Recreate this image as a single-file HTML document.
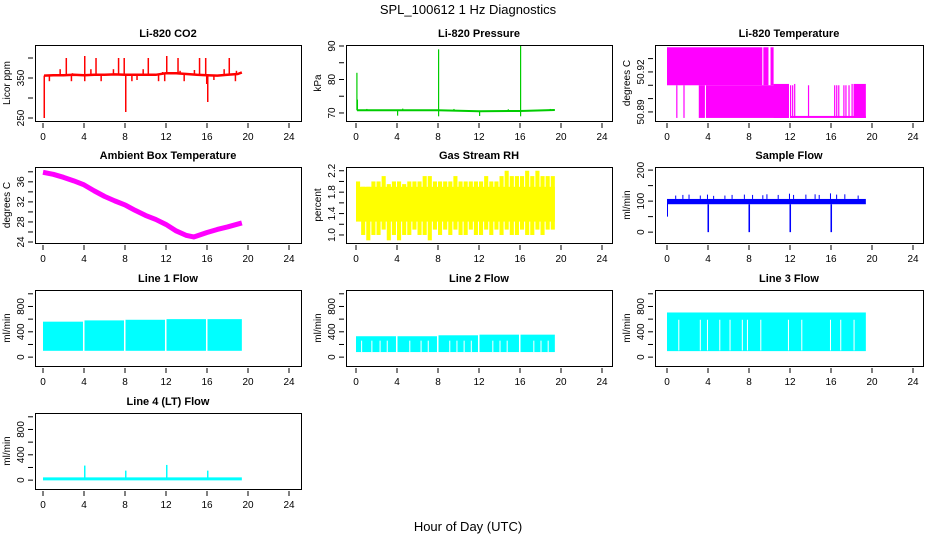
<!DOCTYPE html>
<html><head><meta charset="utf-8"><style>
html,body{margin:0;padding:0;background:#fff;}
svg{display:block;font-family:"Liberation Sans",sans-serif;}
</style></head><body>
<svg id="chart" width="936" height="540" viewBox="0 0 936 540" xmlns="http://www.w3.org/2000/svg">
<rect x="0" y="0" width="936" height="540" fill="#fff"/>
<text x="468" y="14" text-anchor="middle" font-size="13">SPL_100612  1 Hz Diagnostics</text>
<text x="468" y="531" text-anchor="middle" font-size="13">Hour of Day (UTC)</text>
</svg>
<script>
// ---- data ----
const xTicks = [0,4,8,12,16,20,24];
const co2Hours = [0.1,1,2,3,4,5,6,7,8,9,10,11,12,13,14,15,16,17,18,19,19.4];
const co2Base = [356,357,357,358,357,358,358,359,358,358,358,358,362,362,360,358,357,356,358,360,364];
const co2SpikeHours = [0.05,2.2,4.0,5.1,7.3,7.85,8.0,10.2,12.0,13.1,15.2,15.8,16.0,18.1,1.6,2.8,4.6,6.8,9.7,11.6,13.3,14.7,17.6,18.8,0.55,2.7,5.6,8.6,9.1,11.2,11.8,13.7,15.9,16.6,18.7,4.0];
const co2SpikeVals = [250,400,405,400,400,400,265,400,405,400,400,400,290,400,372,362,372,372,372,365,368,370,372,368,342,342,342,342,345,342,342,342,335,345,342,342];
const pressHours = [0.1,4,8,12,16,19.4];
const pressBase = [70.8,70.8,70.8,70.5,70.6,70.9];
const pressSpikeHours = [0.03,0.08,8.0,16.0,4.0,8.0,12.0,16.0,1.0,4.5,9.5,14.8,18.9];
const pressSpikeVals = [82,74,89,90,69.2,69,69.1,69,71.2,71.3,71.2,71.1,71.2];
const tempSegStart = [0,9.4,10.1,0.9,1.6,3.1,3.8,12.0,18.2,12.0,12.2,12.4,13.75,16.3,16.5,16.7,17.2,17.4,17.7,18.0,10.4];
const tempSegEnd   = [9.3,9.9,10.4,1.0,1.65,3.7,11.9,19.4,19.4,12.1,12.3,12.5,13.85,16.35,16.6,16.8,17.3,17.5,17.8,18.1,11.9];
const tempSegLow   = [50.910,50.910,50.910,50.8855,50.8855,50.8855,50.8855,50.8855,50.8855,50.8855,50.8855,50.8855,50.8855,50.8855,50.8855,50.8855,50.8855,50.8855,50.8855,50.8855,50.8855];
const tempSegHigh  = [50.9385,50.9385,50.9385,50.910,50.910,50.910,50.910,50.887,50.911,50.910,50.910,50.911,50.910,50.910,50.910,50.910,50.910,50.910,50.910,50.911,50.911];
const ambHours = [0,1,2,3,4,5,6,7,8,9,10,11,12,13,14,14.7,15,16,17,18,19.4];
const ambVals = [37.9,37.5,36.9,36.2,35.4,34.2,33.1,32.2,31.4,30.3,29.3,28.5,27.5,26.2,25.3,25.0,25.2,25.9,26.5,27.0,27.8];
const rhLow = [1.5,1.0,0.9,1.0,1.0,1.1,0.9,1.0,0.9,1.0,1.0,1.1,1.0,1.0,0.9,1.1,1.0,1.1,1.0,1.1,1.0,1.0,1.1,1.0,1.0,1.1,1.0,1.1,1.0,1.1,1.0,1.0,1.1,1.0,1.0,1.1,1.0,1.1,1.1];
const rhHigh = [2.0,1.9,1.9,2.0,2.0,2.1,1.95,2.0,2.0,1.95,2.0,2.0,2.0,2.1,2.1,2.0,2.0,2.0,2.0,2.1,2.0,2.0,2.0,2.0,2.0,2.1,2.0,2.0,2.1,2.2,2.1,2.1,2.1,2.2,2.1,2.2,2.1,2.1,2.1];
const sfBandLow = 90, sfBandHigh = 107;
const sfSpikeHours = [0.8,1.5,2.1,3.2,3.9,4.5,5.6,6.3,7.5,8.3,9.3,9.7,10.8,11.9,12.3,13.5,14.4,14.8,15.9,16.5,17.3,18.6];
const sfSpikeVals = [118,120,121,118,121,117,118,120,121,120,119,122,120,124,120,121,122,120,125,121,122,118];
const sfDipHours = [4.0,8.0,12.0,16.0];
const sfDipVals = [0,0,0,0];
const l1SegStart = [0,4.05,8.05,12.05,16.05];
const l1SegEnd = [3.9,7.9,11.9,15.9,19.4];
const l1SegTop = [560,580,590,600,600];
const l1Bottom = 100;
const l2SegStart = [0,4.05,8.05,12.05,16.05];
const l2SegEnd = [3.9,7.9,11.9,15.9,19.4];
const l2SegTop = [330,330,345,355,355];
const l2Bottom = 80;
const l2Gaps = [0.5,1.5,2.3,3.0,5.2,6.3,7.0,9.1,9.8,10.5,11.2,13.3,14.0,14.7,17.3,18.0,18.7];
const l3SegStart = [0];
const l3SegEnd = [19.4];
const l3SegTop = [705];
const l3Bottom = 95;
const l3Gaps = [1.1,3.2,3.9,5.1,6.1,7.3,7.8,9.1,11.8,13.1,15.9,16.9,18.2];
const l4Hours = [0,19.4];
const l4Vals = [20,20];
const l4SpikeHours = [4.0,8.0,12.0,16.0];
const l4SpikeVals = [230,150,240,150];

// ---- layout ----
const svg = document.getElementById('chart');
const NS = 'http://www.w3.org/2000/svg';
const colLeft = [35,346,655], colRight = [301,612,923], colX0 = [43,356,667];
const rowTop = [45,167,290,413], boxH = 76;
const XS = 10.25;

function el(tag, attrs, parent){
  const e = document.createElementNS(NS, tag);
  for (const k in attrs) e.setAttribute(k, attrs[k]);
  (parent||svg).appendChild(e);
  return e;
}
function panel(name, title, ylab, col, row, y0, y1, yticks, ylabels){
  const g = el('g', {});
  
  
  const p = {g, L:colLeft[col], R:colRight[col], T:rowTop[row], B:rowTop[row]+boxH, x0:colX0[col], y0, y1};
  p.x = h => p.x0 + h*XS;
  p.y = v => p.B - (v - y0) / (y1 - y0) * boxH;
  const t = el('text', {x:(p.L+p.R)/2, y:p.T-8, 'text-anchor':'middle', 'font-size':11, 'font-weight':'bold'}, g);
  t.textContent = title;
  
  
  const yl = el('text', {x:0, y:0, 'text-anchor':'middle', 'font-size':10, transform:`translate(${p.L-25},${p.T+boxH/2}) rotate(-90)`}, g);
  yl.textContent = ylab;
  
  
  xTicks.forEach(h => {
    const tk = el('line', {x1:p.x(h), x2:p.x(h), y1:p.B+2, y2:p.B+7, stroke:'#000'}, g);
    
    
    const lb = el('text', {x:p.x(h), y:p.B+19, 'text-anchor':'middle', 'font-size':10}, g);
    lb.textContent = h;
    
    
  });
  yticks.forEach(v => {
    const yy = p.y(v);
    const tk = el('line', {x1:p.L-7, x2:p.L-2, y1:yy, y2:yy, stroke:'#000'}, g);
    
    
  });
  ylabels.forEach(s => {
    const lb = el('text', {x:0, y:0, 'text-anchor':'middle', 'font-size':10, transform:`translate(${p.L-11},${p.y(parseFloat(s))}) rotate(-90)`}, g);
    lb.textContent = s;
    
    
  });
  p.data = el('g', {}, g);
  
  
  const box = el('rect', {x:p.L+0.5, y:p.T+0.5, width:p.R-p.L, height:boxH, fill:'none', stroke:'#000'}, g);
  
  
  return p;
}
function vbar(p, h0, h1, lo, hi, color, name, minW){
  const x0 = p.x(h0), x1 = p.x(h1);
  const ya = p.y(hi), yb = p.y(lo);
  const r = el('rect', {x:x0, y:ya, width:Math.max(minW||1, x1-x0), height:Math.max(1.5, yb-ya), fill:color}, p.data);
  
  
  return r;
}
function poly(p, hs, vs, color, w, name){
  const pts = hs.map((h,i)=>p.x(h)+','+p.y(vs[i])).join(' ');
  const l = el('polyline', {points:pts, fill:'none', stroke:color, 'stroke-width':w, 'stroke-linejoin':'round'}, p.data);
  
  
}
function interp(hs, vs, h){
  if (h <= hs[0]) return vs[0];
  for (let i=1;i<hs.length;i++) if (h <= hs[i]) return vs[i-1] + (vs[i]-vs[i-1])*(h-hs[i-1])/(hs[i]-hs[i-1]);
  return vs[vs.length-1];
}

// CO2
const pCO2 = panel('co2-panel','Li-820 CO2','Licor ppm',0,0,242.5,432.5,[250,300,350,400],['250','350']);
poly(pCO2, co2Hours, co2Base, '#ff0000', 2.5, 'co2-line');
co2SpikeHours.forEach((h,i)=>{ const b = interp(co2Hours,co2Base,h); vbar(pCO2,h,h+0.1,Math.min(b,co2SpikeVals[i]),Math.max(b,co2SpikeVals[i]),'#ff0000','co2-spike',1.5); });

// Pressure
const pP = panel('pressure-panel','Li-820 Pressure','kPa',1,0,67.6,90.3,[70,75,80,85,90],['70','80','90']);
poly(pP, pressHours, pressBase, '#00cc00', 2, 'pressure-line');
pressSpikeHours.forEach((h,i)=>{ const b = interp(pressHours,pressBase,h); vbar(pP,h,h+0.08,Math.min(b,pressSpikeVals[i]),Math.max(b,pressSpikeVals[i]),'#00cc00','pressure-spike',1.2); });

// Li-820 temperature
const pT = panel('li820-temperature-panel','Li-820 Temperature','degrees C',2,0,50.8832,50.9402,[50.89,50.90,50.91,50.92,50.93],['50.89','50.92']);
tempSegStart.forEach((s,i)=>vbar(pT,s,tempSegEnd[i],tempSegLow[i],tempSegHigh[i],'#ff00ff','temperature-segment',1.2));

// Ambient
const pA = panel('ambient-temperature-panel','Ambient Box Temperature','degrees C',0,1,23.8,38.96,[24,26,28,30,32,34,36,38],['24','28','32','36']);
poly(pA, ambHours, ambVals, '#ff00ff', 5, 'ambient-temperature-line');

// RH
const pRH = panel('gas-stream-rh-panel','Gas Stream RH','percent',1,1,0.85,2.27,[1.0,1.2,1.4,1.6,1.8,2.0,2.2],['1.0','1.4','1.8','2.2']);
vbar(pRH,0,19.4,1.25,1.9,'#ffff00','rh-core');
rhLow.forEach((lo,i)=>vbar(pRH,i*0.5,i*0.5+0.4,lo,rhHigh[i],'#ffff00','rh-bin'));

// Sample flow
const pS = panel('sample-flow-panel','Sample Flow','ml/min',2,1,-35,210,[0,50,100,150,200],['0','100','200']);
vbar(pS,0,19.4,sfBandLow,sfBandHigh,'#0000ff','sample-flow-band');
vbar(pS,0,0.08,50,100,'#0000ff','sample-flow-start');
sfSpikeHours.forEach((h,i)=>vbar(pS,h,h+0.08,sfBandHigh,sfSpikeVals[i],'#0000ff','sample-flow-spike'));
sfDipHours.forEach((h,i)=>vbar(pS,h-0.05,h+0.1,sfDipVals[i],sfBandLow,'#0000ff','sample-flow-dip',1.5));

// Line flows
const pL1 = panel('line1-flow-panel','Line 1 Flow','ml/min',0,2,-140,1060,[0,200,400,600,800,1000],['0','400','800']);
l1SegStart.forEach((s,i)=>vbar(pL1,s,l1SegEnd[i],l1Bottom,l1SegTop[i],'#00ffff','line1-flow-segment'));
const pL2 = panel('line2-flow-panel','Line 2 Flow','ml/min',1,2,-140,1060,[0,200,400,600,800,1000],['0','400','800']);
l2SegStart.forEach((s,i)=>vbar(pL2,s,l2SegEnd[i],l2Bottom,l2SegTop[i],'#00ffff','line2-flow-segment'));
l2Gaps.forEach(h=>vbar(pL2,h,h+0.08,l2Bottom,260,'#ffffff','line2-flow-gap'));
const pL3 = panel('line3-flow-panel','Line 3 Flow','ml/min',2,2,-140,1060,[0,200,400,600,800,1000],['0','400','800']);
l3SegStart.forEach((s,i)=>vbar(pL3,s,l3SegEnd[i],l3Bottom,l3SegTop[i],'#00ffff','line3-flow-segment'));
l3Gaps.forEach(h=>vbar(pL3,h,h+0.1,l3Bottom+10,590,'#ffffff','line3-flow-gap'));
const pL4 = panel('line4-flow-panel','Line 4 (LT) Flow','ml/min',0,3,-140,1060,[0,200,400,600,800,1000],['0','400','800']);
poly(pL4, l4Hours, l4Vals, '#00ffff', 3, 'line4-flow-line');
l4SpikeHours.forEach((h,i)=>vbar(pL4,h,h+0.08,l4Vals[0],l4SpikeVals[i],'#00ffff','line4-flow-spike',1.5));
</script>
</body></html>
